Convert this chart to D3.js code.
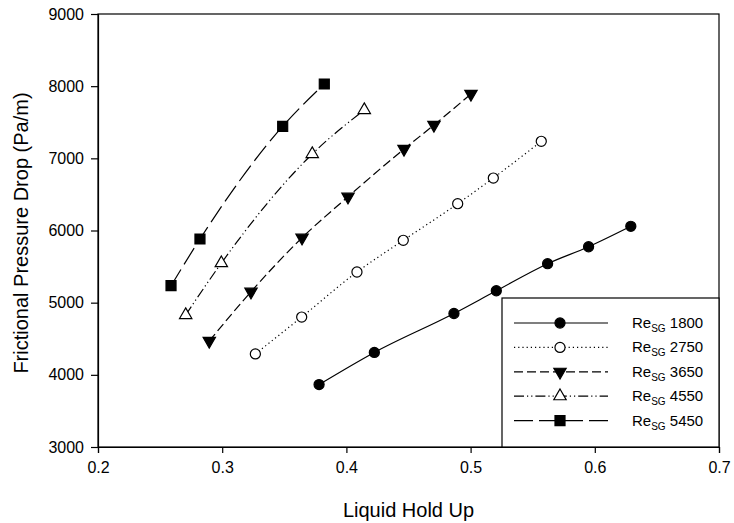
<!DOCTYPE html>
<html>
<head>
<meta charset="utf-8">
<script src="https://cdn.jsdelivr.net/npm/d3@7"></script>
<style>
  body { margin: 0; background: #fff; }
  svg { font-family: "Liberation Sans", Arial, sans-serif; }
</style>
</head>
<body>
<svg id="chart" width="734" height="523"></svg>
<script>
// values
const xTicks = [0.2, 0.3, 0.4, 0.5, 0.6, 0.7];
const yTicks = [3000, 4000, 5000, 6000, 7000, 8000, 9000];

const seriesNames = ["1800", "2750", "3650", "4550", "5450"];

const hold1800 = [0.378, 0.4225, 0.4866, 0.5207, 0.562, 0.595, 0.629];
const dp1800 = [3865, 4310, 4850, 5165, 5540, 5775, 6058];

const hold2750 = [0.3267, 0.364, 0.4085, 0.4458, 0.4896, 0.5183, 0.5569];
const dp2750 = [4290, 4801, 5425, 5864, 6371, 6727, 7236];

const hold3650 = [0.2896, 0.3232, 0.3643, 0.4013, 0.4464, 0.4705, 0.5003];
const dp3650 = [4469, 5152, 5900, 6468, 7129, 7462, 7892];

const hold4550 = [0.2706, 0.2993, 0.3725, 0.4144];
const dp4550 = [4829, 5548, 7060, 7670];

const hold5450 = [0.2588, 0.2821, 0.3487, 0.3822];
const dp5450 = [5235, 5882, 7444, 8030];

const series = [
    { name: seriesNames[0], x: hold1800, y: dp1800, dash: null, symbol: "circle", fill: "#000" },
    { name: seriesNames[1], x: hold2750, y: dp2750, dash: "1.2,3", symbol: "circle", fill: "#fff" },
    { name: seriesNames[2], x: hold3650, y: dp3650, dash: "9,4", symbol: "triangleDown", fill: "#000" },
    { name: seriesNames[3], x: hold4550, y: dp4550, dash: "10,3,1.2,3,1.2,3", symbol: "triangle", fill: "#fff" },
    { name: seriesNames[4], x: hold5450, y: dp5450, dash: "19,6", symbol: "square", fill: "#000" }
];

const svg = d3.select("#chart");
const plotLeft = 98, plotRight = 719, plotTop = 14, plotBottom = 447;

const x = d3.scaleLinear().domain([0.2, 0.7]).range([plotLeft, plotRight]);
const y = d3.scaleLinear().domain([3000, 9000]).range([plotBottom, plotTop]);

// frame
svg.append("rect")
    .attr("x", plotLeft).attr("y", plotTop)
    .attr("width", plotRight - plotLeft).attr("height", plotBottom - plotTop)
    .attr("fill", "none").attr("stroke", "#000").attr("stroke-width", 1.2);

// axes
const xAxis = svg.append("g")
    .attr("transform", `translate(0,${plotBottom})`)
    .call(d3.axisBottom(x).tickValues(xTicks).tickFormat(d3.format(".1f")).tickSize(6).tickPadding(9));
const yAxis = svg.append("g")
    .attr("transform", `translate(${plotLeft},0)`)
    .call(d3.axisLeft(y).tickValues(yTicks).tickFormat(d => d).tickSize(7).tickPadding(7));

[xAxis, yAxis].forEach(a => {
    a.select(".domain").attr("stroke", "#000").attr("stroke-width", 1.2);
    a.selectAll(".tick line").attr("stroke", "#000").attr("stroke-width", 1.2);
    a.selectAll(".tick text")
        .attr("fill", "#000")
        .style("font-size", "16px")
        .style("font-family", "Liberation Sans, Arial, sans-serif");
});

// axis titles
svg.append("text")
    .attr("x", (plotLeft + plotRight) / 2).attr("y", 517)
    .attr("text-anchor", "middle")
    .style("font-size", "20px")
    .text("Liquid Hold Up");

svg.append("text")
    .attr("transform", `translate(28,233) rotate(-90)`)
    .attr("text-anchor", "middle")
    .style("font-size", "20px")
    .text("Frictional Pressure Drop (Pa/m)");

const symbols = {
    circle: d3.symbol().type(d3.symbolCircle).size(80),
    triangle: d3.symbol().type(d3.symbolTriangle).size(66),
    triangleDown: d3.symbol().type(d3.symbolTriangle).size(66),
    square: d3.symbol().type(d3.symbolSquare).size(100)
};

function drawMarker(g, s, cx, cy) {
    const rot = s.symbol === "triangleDown" ? " rotate(180)" : "";
    g.append("path")
        .attr("d", symbols[s.symbol]())
        .attr("transform", `translate(${cx},${cy})${rot}`)
        .attr("fill", s.fill)
        .attr("stroke", "#000")
        .attr("stroke-width", 1.2);
}

const line = d3.line()
    .x(d => x(d[0]))
    .y(d => y(d[1]))
    .curve(d3.curveMonotoneX);

series.forEach(s => {
    const pts = s.x.map((v, i) => [v, s.y[i]]);
    const g = svg.append("g");
    g.append("path")
        .attr("d", line(pts))
        .attr("fill", "none")
        .attr("stroke", "#000")
        .attr("stroke-width", 1.2)
        .attr("stroke-dasharray", s.dash);
    pts.forEach(p => drawMarker(g, s, x(p[0]), y(p[1])));
});

// legend
const lx = 502, ly = 298;
svg.append("rect")
    .attr("x", lx).attr("y", ly)
    .attr("width", plotRight - lx).attr("height", plotBottom - ly)
    .attr("fill", "#fff").attr("stroke", "#000").attr("stroke-width", 1.2);

series.forEach((s, i) => {
    const ry = 323 + i * 24.4;
    const g = svg.append("g");
    g.append("line")
        .attr("x1", 514).attr("x2", 608)
        .attr("y1", ry).attr("y2", ry)
        .attr("stroke", "#000").attr("stroke-width", 1.2)
        .attr("stroke-dasharray", s.dash);
    drawMarker(g, s, 560, ry);
    const t = g.append("text")
        .attr("x", 632).attr("y", ry + 5)
        .style("font-size", "15px");
    t.append("tspan").text("Re");
    t.append("tspan").attr("dy", 4).style("font-size", "10px").text("SG");
    t.append("tspan").attr("dy", -4).text(" " + s.name);
});
</script>
</body>
</html>
